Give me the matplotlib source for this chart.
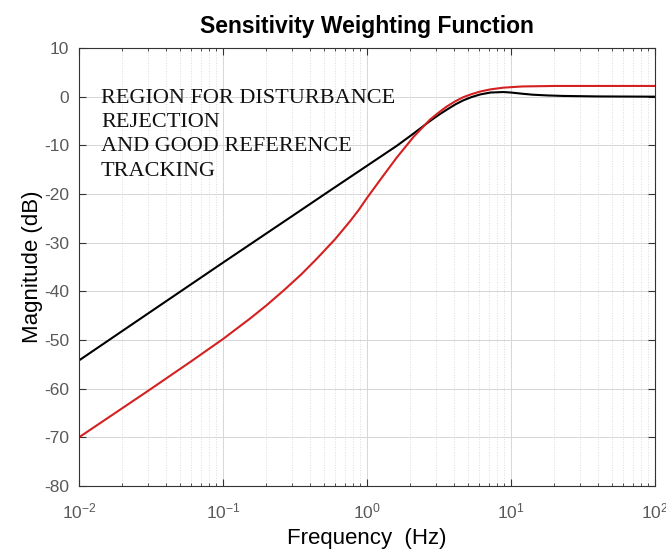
import matplotlib
matplotlib.use("Agg")
import matplotlib.pyplot as plt
from matplotlib.ticker import LogLocator, NullFormatter

# values
freq_black = [0.01, 0.03, 0.1, 0.3, 0.553, 1.0, 1.61, 2.10, 2.74, 3.2, 3.57,
              4.1, 4.67, 5.3, 6.1, 7.2, 8.85, 10.0, 12.0, 14.2, 18.0, 23.0,
              40.0, 100.0]
mag_black = [-54.2, -44.6, -34.1, -24.6, -19.3, -14.2, -10.1, -7.6, -5.0, -3.6,
             -2.7, -1.6, -0.75, -0.1, 0.45, 0.85, 0.95, 0.85, 0.6, 0.4, 0.25,
             0.15, 0.05, 0.0]

freq_red = [0.01, 0.03, 0.06, 0.1, 0.154, 0.2, 0.262, 0.35, 0.448, 0.6, 0.762,
            0.88, 1.0, 1.3, 1.61, 2.10, 2.74, 3.2, 3.57, 4.1, 4.67, 5.3, 6.1,
            7.2, 8.85, 12.0, 20.0, 100.0]
mag_red = [-70.0, -60.5, -54.4, -49.8, -45.6, -42.9, -39.9, -36.5, -33.3, -29.3,
           -25.6, -23.2, -20.8, -16.2, -12.5, -8.3, -4.7, -3.1, -2.05, -0.95,
           -0.1, 0.5, 1.05, 1.5, 1.85, 2.1, 2.2, 2.2]

title = "Sensitivity Weighting Function"
xlabel = "Frequency  (Hz)"
ylabel = "Magnitude (dB)"
note = "REGION FOR DISTURBANCE\nREJECTION\nAND GOOD REFERENCE\nTRACKING"

plt.rcParams['font.family'] = ['Liberation Sans', 'DejaVu Sans']
plt.rcParams['axes.unicode_minus'] = False

fig = plt.figure(figsize=(6.66, 5.5), dpi=100)
ax = fig.add_axes([79 / 666, 1 - 486 / 550, 576 / 666, 438 / 550])

ax.semilogx(freq_black, mag_black, color='black', linewidth=1.5)
ax.semilogx(freq_red, mag_red, color='#d42020', linewidth=1.5)

ax.set_xlim(1e-2, 1e2)
ax.set_ylim(-80, 10)
ax.set_yticks(range(-80, 11, 10))
ax.xaxis.set_major_locator(LogLocator(base=10, numticks=10))
ax.xaxis.set_minor_locator(LogLocator(base=10, subs=range(2, 10), numticks=50))
ax.xaxis.set_minor_formatter(NullFormatter())

ax.grid(True, which='major', color='#d6d6d6', linewidth=0.7)
ax.grid(True, which='minor', axis='x', color='#dcdcdc', linestyle=':', linewidth=0.7)
ax.set_axisbelow(True)

for side in ax.spines.values():
    side.set_color('#333333')
    side.set_linewidth(0.8)
ax.tick_params(which='both', direction='in', top=True, right=True,
               colors='#333333', labelcolor='#595959', labelsize=12.5)
ax.tick_params(axis='x', which='major', pad=11, length=5)
ax.tick_params(axis='y', which='major', pad=7, length=5)
ax.tick_params(which='minor', length=2.5)

ax.set_title(title, fontsize=16.5, fontweight='bold', pad=11)
ax.set_xlabel(xlabel, fontsize=16, labelpad=5)
ax.set_ylabel(ylabel, fontsize=16, labelpad=1)

ax.text(0.038, 0.907, note, transform=ax.transAxes, ha='left', va='top',
        family='Liberation Serif', fontsize=16, linespacing=1.38, color='#111111')

fig.savefig('out.png', dpi=100)
